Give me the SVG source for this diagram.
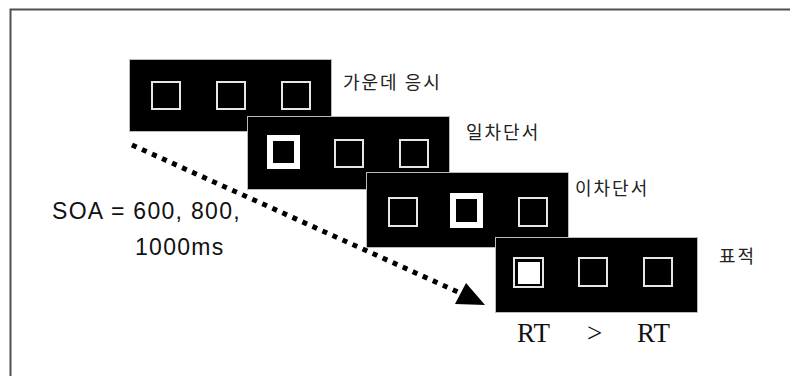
<svg xmlns="http://www.w3.org/2000/svg" width="790" height="376" viewBox="0 0 790 376">
<style>
.frame{fill:none;stroke:#505050;stroke-width:2}
.box{fill:#000;stroke:#bbb;stroke-width:1}
.sq{fill:none;stroke:#e6e6e6;stroke-width:2}
.sqb{fill:none;stroke:#fff;stroke-width:6}
.ko{font-family:"Noto Sans CJK KR","Noto Sans",sans-serif;font-size:18px;letter-spacing:2px;fill:#222}
.soa{font-family:"Liberation Sans",Arial,sans-serif;font-size:23px;letter-spacing:1.3px;fill:#111}
.rt{font-family:"Liberation Serif","Times New Roman",serif;font-size:27px;fill:#111}
.dots{fill:none;stroke:#000;stroke-width:5;stroke-dasharray:5 6}
</style>
<rect width="790" height="376" fill="#fff"/>
<path class="frame" d="M10.5,376 V9.5 H790"/>
<g id="fixation">
<rect class="box" x="129.5" y="59.5" width="202" height="72"/>
<rect class="sq" x="152" y="82" width="28" height="27"/>
<rect class="sq" x="217" y="82" width="28" height="27"/>
<rect class="sq" x="282" y="82" width="28" height="27"/>
<text class="ko" x="343" y="89">가운데 응시</text>
</g>
<g id="cue1">
<rect class="box" x="247.5" y="116.5" width="202" height="73"/>
<rect class="sqb" x="270" y="138" width="27" height="28"/>
<rect class="sq" x="335" y="140" width="28" height="27"/>
<rect class="sq" x="400" y="140" width="28" height="27"/>
<text class="ko" x="466" y="139">일차단서</text>
</g>
<g id="cue2">
<rect class="box" x="366.5" y="172.5" width="202" height="75"/>
<rect class="sq" x="389" y="198" width="28" height="28"/>
<rect class="sqb" x="453" y="196" width="27" height="29"/>
<rect class="sq" x="519" y="198" width="28" height="28"/>
<text class="ko" x="575" y="195">이차단서</text>
</g>
<g id="target">
<rect class="box" x="495.5" y="237.5" width="202" height="75"/>
<rect class="sq" x="514" y="258" width="29" height="29"/>
<rect x="518" y="262" width="22" height="22" fill="#fff"/>
<rect class="sq" x="579" y="258" width="28" height="28"/>
<rect class="sq" x="644" y="258" width="28" height="28"/>
<text class="ko" x="719" y="263">표적</text>
</g>
<g id="connectors">
<line class="dots" x1="132" y1="145" x2="458" y2="292"/>
<polygon points="455,304 466,283 485,305" fill="#000"/>
</g>
<g id="labels">
<text class="soa" x="52" y="219">SOA = 600, 800,</text>
<text class="soa" x="135" y="255">1000ms</text>
<text class="rt" x="517" y="342">RT</text>
<text class="rt" x="587" y="342" fill="#555">&gt;</text>
<text class="rt" x="637" y="342">RT</text>
</g>
</svg>
